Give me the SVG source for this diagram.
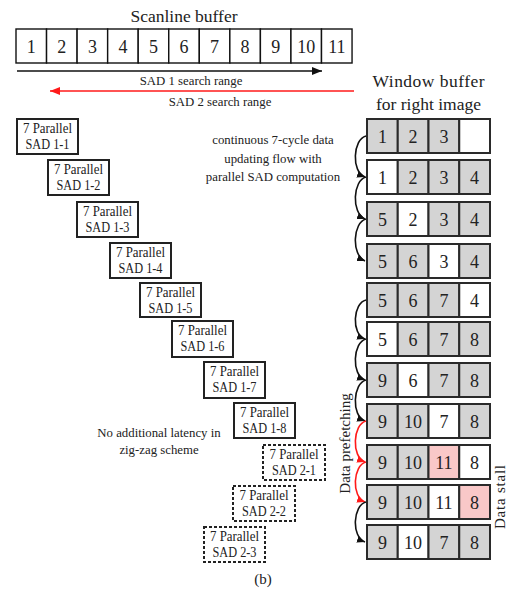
<svg xmlns="http://www.w3.org/2000/svg" width="510" height="590" viewBox="0 0 510 590" font-family="'Liberation Serif', 'DejaVu Serif', serif">
  <style>
    text { font-family: 'Liberation Serif', 'DejaVu Serif', serif; fill: #222; }
    .title { font-size: 17.5px; text-anchor: middle; }
    .num { font-size: 18px; text-anchor: middle; }
    .lbl { font-size: 12.8px; text-anchor: middle; }
    .vert { font-size: 15px; text-anchor: middle; }
    .cap { font-size: 15px; text-anchor: middle; }
    .box { font-size: 14px; text-anchor: middle; }
    .cellg { fill: #d4d4d4; stroke: #2a2a2a; stroke-width: 2; }
    .cellw { fill: #ffffff; stroke: #2a2a2a; stroke-width: 2; }
    .cellp { fill: #f9c8c8; stroke: #2a2a2a; stroke-width: 2; }
    .scan { fill: #ffffff; stroke: #111; stroke-width: 1.4; }
    .sad { fill: #ffffff; stroke: #222; stroke-width: 2; }
    .sad2 { fill: #ffffff; stroke: #222; stroke-width: 2; stroke-dasharray: 3 2; }
    .flow { fill: none; stroke: #111; stroke-width: 1.6; }
    .flowr { fill: none; stroke: #ff1a1a; stroke-width: 1.6; }
  </style>
  <defs>
    <marker id="headK" markerUnits="userSpaceOnUse" markerWidth="10" markerHeight="8" refX="10" refY="4" orient="auto">
      <path d="M0,0 L10,4 L0,8 z" fill="#111"/>
    </marker>
    <marker id="headR" markerUnits="userSpaceOnUse" markerWidth="10" markerHeight="8" refX="10" refY="4" orient="auto">
      <path d="M0,0 L10,4 L0,8 z" fill="#ff1a1a"/>
    </marker>
    <marker id="tipK" markerUnits="userSpaceOnUse" markerWidth="8" markerHeight="7" refX="8" refY="3.5" orient="auto">
      <path d="M0,0 L8,3.5 L0,7 z" fill="#111"/>
    </marker>
    <marker id="tipR" markerUnits="userSpaceOnUse" markerWidth="8" markerHeight="7" refX="8" refY="3.5" orient="auto">
      <path d="M0,0 L8,3.5 L0,7 z" fill="#ff1a1a"/>
    </marker>
  </defs>

  <!-- scanline buffer -->
  <g id="scanline">
    <text class="title" x="184" y="22">Scanline  buffer</text>
    <g>
      <rect class="scan" x="16" y="29" width="30.55" height="34"/>
      <rect class="scan" x="46.55" y="29" width="30.55" height="34"/>
      <rect class="scan" x="77.1" y="29" width="30.55" height="34"/>
      <rect class="scan" x="107.65" y="29" width="30.55" height="34"/>
      <rect class="scan" x="138.2" y="29" width="30.55" height="34"/>
      <rect class="scan" x="168.75" y="29" width="30.55" height="34"/>
      <rect class="scan" x="199.3" y="29" width="30.55" height="34"/>
      <rect class="scan" x="229.85" y="29" width="30.55" height="34"/>
      <rect class="scan" x="260.4" y="29" width="30.55" height="34"/>
      <rect class="scan" x="290.95" y="29" width="30.55" height="34"/>
      <rect class="scan" x="321.5" y="29" width="30.55" height="34"/>
    </g>
    <text class="num" x="31.3" y="53">1</text>
    <text class="num" x="61.8" y="53">2</text>
    <text class="num" x="92.4" y="53">3</text>
    <text class="num" x="122.9" y="53">4</text>
    <text class="num" x="153.5" y="53">5</text>
    <text class="num" x="184" y="53">6</text>
    <text class="num" x="214.6" y="53">7</text>
    <text class="num" x="245.1" y="53">8</text>
    <text class="num" x="275.7" y="53">9</text>
    <text class="num" x="306.2" y="53">10</text>
    <text class="num" x="336.8" y="53">11</text>
  </g>

  <!-- search ranges -->
  <g id="ranges">
    <line x1="17" y1="71" x2="322" y2="71" stroke="#111" stroke-width="1.6" marker-end="url(#headK)"/>
    <text class="lbl" x="191" y="85">SAD 1 search range</text>
    <line x1="354" y1="91" x2="50" y2="91" stroke="#ff1a1a" stroke-width="1.6" marker-end="url(#headR)"/>
    <text class="lbl" x="220" y="106">SAD 2 search range</text>
  </g>

  <!-- window buffer rows -->
  <g id="window">
    <text class="title" x="428.5" y="87" textLength="112" lengthAdjust="spacing">Window buffer</text>
    <text class="title" x="428.5" y="110">for right image</text>

    <g id="w1">
      <rect class="cellg" x="367" y="119" width="30.75" height="34"/>
      <rect class="cellg" x="397.75" y="119" width="30.75" height="34"/>
      <rect class="cellg" x="428.5" y="119" width="30.75" height="34"/>
      <rect class="cellw" x="459.25" y="119" width="30.75" height="34"/>
      <text class="num" x="382.4" y="143">1</text>
      <text class="num" x="413.1" y="143">2</text>
      <text class="num" x="443.9" y="143">3</text>
    </g>
    <g id="w2">
      <rect class="cellw" x="367" y="160" width="30.75" height="34"/>
      <rect class="cellg" x="397.75" y="160" width="30.75" height="34"/>
      <rect class="cellg" x="428.5" y="160" width="30.75" height="34"/>
      <rect class="cellg" x="459.25" y="160" width="30.75" height="34"/>
      <text class="num" x="382.4" y="184">1</text>
      <text class="num" x="413.1" y="184">2</text>
      <text class="num" x="443.9" y="184">3</text>
      <text class="num" x="474.6" y="184">4</text>
    </g>
    <g id="w3">
      <rect class="cellg" x="367" y="202" width="30.75" height="34"/>
      <rect class="cellw" x="397.75" y="202" width="30.75" height="34"/>
      <rect class="cellg" x="428.5" y="202" width="30.75" height="34"/>
      <rect class="cellg" x="459.25" y="202" width="30.75" height="34"/>
      <text class="num" x="382.4" y="226">5</text>
      <text class="num" x="413.1" y="226">2</text>
      <text class="num" x="443.9" y="226">3</text>
      <text class="num" x="474.6" y="226">4</text>
    </g>
    <g id="w4">
      <rect class="cellg" x="367" y="244" width="30.75" height="34"/>
      <rect class="cellg" x="397.75" y="244" width="30.75" height="34"/>
      <rect class="cellw" x="428.5" y="244" width="30.75" height="34"/>
      <rect class="cellg" x="459.25" y="244" width="30.75" height="34"/>
      <text class="num" x="382.4" y="268">5</text>
      <text class="num" x="413.1" y="268">6</text>
      <text class="num" x="443.9" y="268">3</text>
      <text class="num" x="474.6" y="268">4</text>
    </g>
    <g id="w5">
      <rect class="cellg" x="367" y="283" width="30.75" height="34"/>
      <rect class="cellg" x="397.75" y="283" width="30.75" height="34"/>
      <rect class="cellg" x="428.5" y="283" width="30.75" height="34"/>
      <rect class="cellw" x="459.25" y="283" width="30.75" height="34"/>
      <text class="num" x="382.4" y="307">5</text>
      <text class="num" x="413.1" y="307">6</text>
      <text class="num" x="443.9" y="307">7</text>
      <text class="num" x="474.6" y="307">4</text>
    </g>
    <g id="w6">
      <rect class="cellw" x="367" y="322" width="30.75" height="34"/>
      <rect class="cellg" x="397.75" y="322" width="30.75" height="34"/>
      <rect class="cellg" x="428.5" y="322" width="30.75" height="34"/>
      <rect class="cellg" x="459.25" y="322" width="30.75" height="34"/>
      <text class="num" x="382.4" y="346">5</text>
      <text class="num" x="413.1" y="346">6</text>
      <text class="num" x="443.9" y="346">7</text>
      <text class="num" x="474.6" y="346">8</text>
    </g>
    <g id="w7">
      <rect class="cellg" x="367" y="363" width="30.75" height="34"/>
      <rect class="cellw" x="397.75" y="363" width="30.75" height="34"/>
      <rect class="cellg" x="428.5" y="363" width="30.75" height="34"/>
      <rect class="cellg" x="459.25" y="363" width="30.75" height="34"/>
      <text class="num" x="382.4" y="387">9</text>
      <text class="num" x="413.1" y="387">6</text>
      <text class="num" x="443.9" y="387">7</text>
      <text class="num" x="474.6" y="387">8</text>
    </g>
    <g id="w8">
      <rect class="cellg" x="367" y="404" width="30.75" height="34"/>
      <rect class="cellg" x="397.75" y="404" width="30.75" height="34"/>
      <rect class="cellw" x="428.5" y="404" width="30.75" height="34"/>
      <rect class="cellg" x="459.25" y="404" width="30.75" height="34"/>
      <text class="num" x="382.4" y="428">9</text>
      <text class="num" x="413.1" y="428">10</text>
      <text class="num" x="443.9" y="428">7</text>
      <text class="num" x="474.6" y="428">8</text>
    </g>
    <g id="w9">
      <rect class="cellg" x="367" y="445" width="30.75" height="34"/>
      <rect class="cellg" x="397.75" y="445" width="30.75" height="34"/>
      <rect class="cellp" x="428.5" y="445" width="30.75" height="34"/>
      <rect class="cellw" x="459.25" y="445" width="30.75" height="34"/>
      <text class="num" x="382.4" y="469">9</text>
      <text class="num" x="413.1" y="469">10</text>
      <text class="num" x="443.9" y="469">11</text>
      <text class="num" x="474.6" y="469">8</text>
    </g>
    <g id="w10">
      <rect class="cellg" x="367" y="485" width="30.75" height="34"/>
      <rect class="cellg" x="397.75" y="485" width="30.75" height="34"/>
      <rect class="cellw" x="428.5" y="485" width="30.75" height="34"/>
      <rect class="cellp" x="459.25" y="485" width="30.75" height="34"/>
      <text class="num" x="382.4" y="509">9</text>
      <text class="num" x="413.1" y="509">10</text>
      <text class="num" x="443.9" y="509">11</text>
      <text class="num" x="474.6" y="509">8</text>
    </g>
    <g id="w11">
      <rect class="cellg" x="367" y="525" width="30.75" height="34"/>
      <rect class="cellw" x="397.75" y="525" width="30.75" height="34"/>
      <rect class="cellg" x="428.5" y="525" width="30.75" height="34"/>
      <rect class="cellg" x="459.25" y="525" width="30.75" height="34"/>
      <text class="num" x="382.4" y="549">9</text>
      <text class="num" x="413.1" y="549">10</text>
      <text class="num" x="443.9" y="549">7</text>
      <text class="num" x="474.6" y="549">8</text>
    </g>
  </g>

  <!-- row-to-row update arrows -->
  <g id="connectors">
    <path class="flow" d="M366,136 C353,139 351,172 365,177" marker-end="url(#tipK)"/>
    <path class="flow" d="M366,177 C353,180 351,213 365,219" marker-end="url(#tipK)"/>
    <path class="flow" d="M366,219 C353,222 351,255 365,261" marker-end="url(#tipK)"/>
    <path class="flow" d="M366,300 C353,303 351,334 365,339" marker-end="url(#tipK)"/>
    <path class="flow" d="M366,339 C353,342 351,375 365,380" marker-end="url(#tipK)"/>
    <path class="flow" d="M366,380 C353,383 351,416 365,421" marker-end="url(#tipK)"/>
    <path class="flowr" d="M366,421 C353,424 351,457 365,462" marker-end="url(#tipR)"/>
    <path class="flowr" d="M366,462 C353,465 351,497 365,502" marker-end="url(#tipR)"/>
    <path class="flow" d="M366,502 C353,505 351,537 365,542" marker-end="url(#tipK)"/>
  </g>

  <g id="notes">
    <text class="lbl" x="273" y="144">continuous 7-cycle data</text>
    <text class="lbl" x="273" y="162.5">updating flow with</text>
    <text class="lbl" x="273" y="181">parallel SAD computation</text>
    <text class="lbl" x="159" y="436.5">No additional latency in</text>
    <text class="lbl" x="159" y="454">zig-zag scheme</text>
    <text class="vert" transform="translate(350,443.5) rotate(-90)">Data prefetching</text>
    <text class="vert" transform="translate(505,497) rotate(-90)" textLength="64" lengthAdjust="spacing">Data stall</text>
    <text class="cap" x="263" y="584">(b)</text>
  </g>

  <!-- zig-zag SAD units -->
  <g id="sad1-1"><rect class="sad" x="17" y="119" width="61" height="35"/><text class="box" x="47.5" y="132.5" textLength="49" lengthAdjust="spacingAndGlyphs">7 Parallel</text><text class="box" x="47.5" y="149" textLength="44" lengthAdjust="spacingAndGlyphs">SAD 1-1</text></g>
  <g id="sad1-2"><rect class="sad" x="48" y="160" width="61" height="35"/><text class="box" x="78.5" y="173.5" textLength="49" lengthAdjust="spacingAndGlyphs">7 Parallel</text><text class="box" x="78.5" y="190" textLength="44" lengthAdjust="spacingAndGlyphs">SAD 1-2</text></g>
  <g id="sad1-3"><rect class="sad" x="77" y="202" width="61" height="35"/><text class="box" x="107.5" y="215.5" textLength="49" lengthAdjust="spacingAndGlyphs">7 Parallel</text><text class="box" x="107.5" y="232" textLength="44" lengthAdjust="spacingAndGlyphs">SAD 1-3</text></g>
  <g id="sad1-4"><rect class="sad" x="110" y="243" width="61" height="35"/><text class="box" x="140.5" y="256.5" textLength="49" lengthAdjust="spacingAndGlyphs">7 Parallel</text><text class="box" x="140.5" y="273" textLength="44" lengthAdjust="spacingAndGlyphs">SAD 1-4</text></g>
  <g id="sad1-5"><rect class="sad" x="140" y="283" width="61" height="34"/><text class="box" x="170.5" y="296.5" textLength="49" lengthAdjust="spacingAndGlyphs">7 Parallel</text><text class="box" x="170.5" y="313" textLength="44" lengthAdjust="spacingAndGlyphs">SAD 1-5</text></g>
  <g id="sad1-6"><rect class="sad" x="172" y="321" width="61" height="36"/><text class="box" x="202.5" y="334.5" textLength="49" lengthAdjust="spacingAndGlyphs">7 Parallel</text><text class="box" x="202.5" y="351" textLength="44" lengthAdjust="spacingAndGlyphs">SAD 1-6</text></g>
  <g id="sad1-7"><rect class="sad" x="204" y="362" width="61" height="36"/><text class="box" x="234.5" y="375.5" textLength="49" lengthAdjust="spacingAndGlyphs">7 Parallel</text><text class="box" x="234.5" y="392" textLength="44" lengthAdjust="spacingAndGlyphs">SAD 1-7</text></g>
  <g id="sad1-8"><rect class="sad" x="234" y="403" width="61" height="35"/><text class="box" x="264.5" y="416.5" textLength="49" lengthAdjust="spacingAndGlyphs">7 Parallel</text><text class="box" x="264.5" y="433" textLength="44" lengthAdjust="spacingAndGlyphs">SAD 1-8</text></g>
  <g id="sad2-1"><rect class="sad2" x="263" y="445" width="62" height="35"/><text class="box" x="294" y="458.5" textLength="49" lengthAdjust="spacingAndGlyphs">7 Parallel</text><text class="box" x="294" y="475" textLength="44" lengthAdjust="spacingAndGlyphs">SAD 2-1</text></g>
  <g id="sad2-2"><rect class="sad2" x="233" y="486" width="62" height="35"/><text class="box" x="264" y="499.5" textLength="49" lengthAdjust="spacingAndGlyphs">7 Parallel</text><text class="box" x="264" y="516" textLength="44" lengthAdjust="spacingAndGlyphs">SAD 2-2</text></g>
  <g id="sad2-3"><rect class="sad2" x="204" y="527" width="61" height="35"/><text class="box" x="234.5" y="540.5" textLength="49" lengthAdjust="spacingAndGlyphs">7 Parallel</text><text class="box" x="234.5" y="557" textLength="44" lengthAdjust="spacingAndGlyphs">SAD 2-3</text></g>
</svg>
